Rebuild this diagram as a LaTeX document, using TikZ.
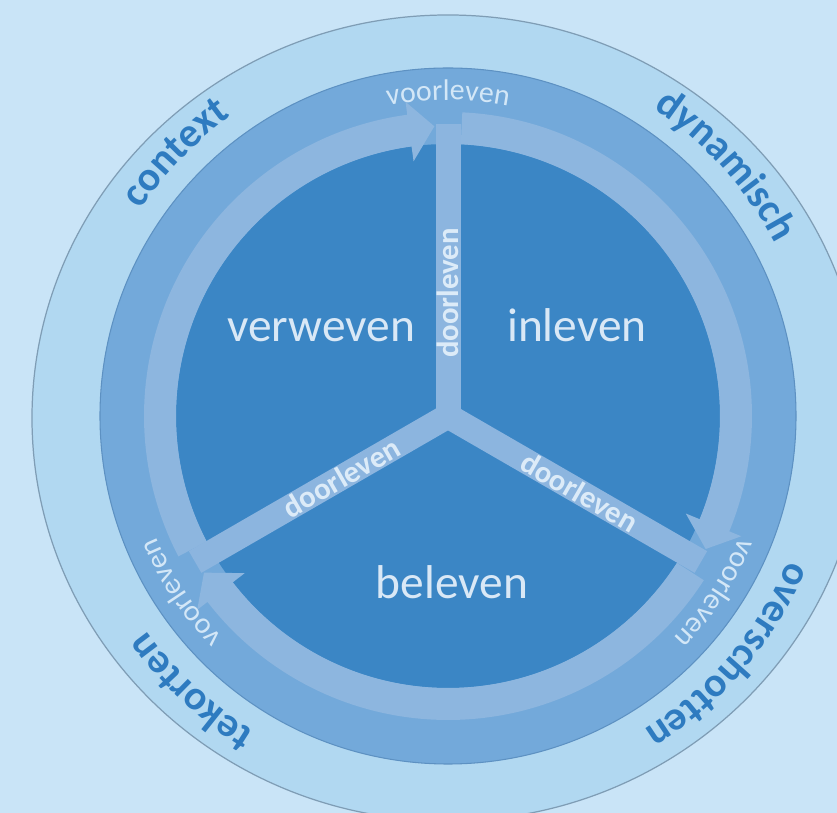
\documentclass[tikz,border=0pt]{standalone}
\usepackage{fontspec}
\setmainfont{Carlito}
\usetikzlibrary{decorations.text}
\definecolor{bgc}{HTML}{C9E4F7}
\definecolor{outerband}{HTML}{B1D8F1}
\definecolor{outline}{HTML}{7F9DB5}
\definecolor{midring}{HTML}{73A9DA}
\definecolor{midline}{HTML}{5D91C2}
\definecolor{arrowc}{HTML}{8DB6DF}
\definecolor{innerc}{HTML}{3B86C5}
\definecolor{bandc}{HTML}{8CB5DF}
\definecolor{mainlbl}{HTML}{D9E8F6}
\definecolor{doorlbl}{HTML}{DCEBF8}
\definecolor{voorlbl}{HTML}{D3E7F7}
\definecolor{outerlbl}{HTML}{2E7BC0}
\newcommand{\myvoorfont}{\fontsize{17pt}{17pt}\selectfont}
\newcommand{\myouterfont}{\fontsize{23.5pt}{23.5pt}\selectfont\bfseries}
\tikzset{
  mainlabel/.style={text=mainlbl, font=\fontsize{27pt}{27pt}\selectfont, inner sep=0pt, anchor=base},
  doorlabel/.style={text=doorlbl, font=\fontsize{17.5pt}{17.5pt}\selectfont\bfseries, inner sep=0pt},
  bandstyle/.style={draw=bandc, line width=0.5cm, line cap=butt},
  voortext/.style={decorate, decoration={text along path, text color=voorlbl, text align=center, text={|\myvoorfont|#1}}},
  outertext/.style={decorate, decoration={text along path, text color=outerlbl, text align=center, text={|\myouterfont|#1}}}
}
\begin{document}
\begin{tikzpicture}[x=0.02cm,y=0.02cm]
\useasboundingbox (-448,416) rectangle (389,-397);
\clip (-448,416) rectangle (389,-397);
\fill[bgc] (-448,416) rectangle (389,-397);
% outer band
\filldraw[fill=outerband, draw=outline, line width=0.7pt] (0,-2) ellipse [x radius=416, y radius=403];
% middle ring
\filldraw[fill=midring, draw=midline, line width=0.6pt] (0,0) circle [radius=348];
% inner disc
\fill[innerc] (0,0) circle [radius=272];
% ring arrows
\fill[arrowc] (207.5:304) arc[start angle=207.5, end angle=97.7, radius=304] -- (97.7:317) -- (92.7:290) -- (97.7:257) -- (97.7:272) arc[start angle=97.7, end angle=207.5, radius=272] -- cycle;
\fill[arrowc] (87.3:304) arc[start angle=87.3, end angle=-22.3, radius=304] -- (-22.3:317) -- (-27.3:290) -- (-22.3:257) -- (-22.3:272) arc[start angle=-22.3, end angle=87.3, radius=272] -- cycle;
\fill[arrowc] (-32.7:304) arc[start angle=-32.7, end angle=-142.3, radius=304] -- (-142.3:317) -- (-147.3:290) -- (-142.3:257) -- (-142.3:272) arc[start angle=-142.3, end angle=-32.7, radius=272] -- cycle;
% bands
\coordinate (hub) at (0,0);
\coordinate (btop) at (90:292);
\coordinate (bleft) at (210:292);
\coordinate (bright) at (330:292);
\draw[bandstyle] (hub) -- (btop);
\draw[bandstyle] (hub) -- (bleft);
\draw[bandstyle] (hub) -- (bright);
% main labels
\node[mainlabel] (verweven) at (-127,74) {verweven};
\node[mainlabel] (inleven) at (129,74) {inleven};
\node[mainlabel] (beleven) at (4,-183) {beleven};
% doorleven labels
\node[doorlabel, rotate=90] (door1) at (0,123) {doorleven};
\node[doorlabel, rotate=30] (door2) at (210:123) {doorleven};
\node[doorlabel, rotate=-30] (door3) at (330:152) {doorleven};
% voorleven labels
\path[voortext=voorleven] (130:316) arc[start angle=130, end angle=50, radius=316];
\path[voortext=voorleven] (366.5:316) arc[start angle=366.5, end angle=286.5, radius=316];
\path[voortext=voorleven] (253.5:316) arc[start angle=253.5, end angle=173.5, radius=316];
% outer labels
\path[outertext=context] (176:370) arc[start angle=176, end angle=96, radius=370];
\path[outertext=dynamisch] (82:370) arc[start angle=82, end angle=2, radius=370];
\path[outertext=overschotten] (-0.5:370) arc[start angle=-0.5, end angle=-80.5, radius=370];
\path[outertext=tekorten] (267:370) arc[start angle=267, end angle=187, radius=370];
\end{tikzpicture}
\end{document}
